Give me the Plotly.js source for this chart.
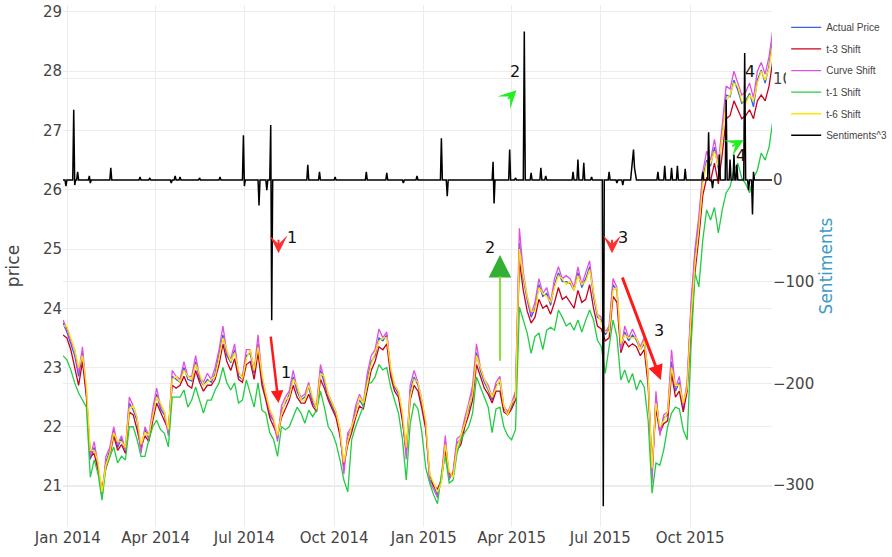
<!DOCTYPE html>
<html>
<head>
<meta charset="utf-8">
<script src="https://cdn.plot.ly/plotly-3.0.1.min.js"></script>
<style>html,body{margin:0;padding:0;background:#fff;}#chart{width:892px;height:557px;}</style>
</head>
<body>
<div id="chart"></div>
<script>
// Series sampled every 4 days starting 2013-12-27
var startDate = '2013-12-27';
var stepDays = 4;

var actualPrice = [
23.75,23.6,23.4,23.2,22.85,23.25,22.55,21.45,21.65,21.3,
20.85,21.4,21.6,21.95,21.65,21.8,21.6,22.4,22.28,22.1,
21.6,21.95,21.8,22.2,22.55,22.3,22.2,21.9,22.85,22.8,
22.75,23.0,22.8,22.77,23.1,22.8,22.7,22.8,22.75,22.9,
23.2,23.55,23.2,23.08,23.3,22.85,22.8,23.2,23.24,22.9,
23.4,22.8,22.5,22.2,22.1,21.8,22.28,22.4,22.55,22.84,
22.6,22.45,22.5,22.67,22.4,22.3,22.96,22.75,22.5,22.35,
22.2,21.9,21.3,21.85,21.95,22.28,22.45,22.35,22.8,23.1,
23.2,23.5,23.45,23.55,22.9,22.67,22.55,22.15,21.55,22.6,
22.84,22.7,22.4,22.0,21.1,21.0,20.85,21.1,21.75,21.15,
21.2,21.72,21.8,22.1,22.3,22.6,23.25,22.95,22.75,22.62,
22.45,22.7,22.75,22.3,22.23,22.35,22.55,25.1,24.5,24.14,
23.85,24.0,24.4,24.2,24.25,24.05,24.4,24.6,24.45,24.45,
24.42,24.3,24.6,24.35,24.5,24.7,24.2,23.85,23.8,23.55,
23.65,24.4,24.3,23.3,23.6,23.45,23.55,23.46,23.3,23.4,
22.8,21.2,22.5,21.9,22.15,22.2,23.1,22.6,22.75,22.3,
22.7,24.0,24.9,25.44,26.2,26.5,26.4,26.72,26.35,26.95,
27.6,27.57,27.85,27.68,27.46,27.5,27.63,27.4,27.85,28.02,
27.8,28.1,28.58
];

var shiftT3 = [
23.55,23.5,23.3,23.0,22.7,23.1,22.5,21.5,21.55,21.25,
20.95,21.3,21.5,21.85,21.6,21.7,21.55,22.25,22.2,21.95,
21.65,21.85,21.75,22.1,22.4,22.25,22.1,21.95,22.7,22.65,
22.7,22.85,22.7,22.65,22.95,22.75,22.6,22.7,22.7,22.8,
23.05,23.4,23.1,22.95,23.15,22.8,22.75,23.05,23.1,22.8,
23.25,22.7,22.45,22.15,22.0,21.85,22.15,22.3,22.45,22.7,
22.5,22.4,22.4,22.55,22.35,22.25,22.8,22.65,22.45,22.3,
22.15,21.85,21.35,21.7,21.9,22.15,22.35,22.3,22.65,22.95,
23.1,23.35,23.3,23.4,22.85,22.6,22.5,22.1,21.6,22.45,
22.7,22.6,22.3,21.95,21.2,21.0,20.95,21.1,21.6,21.2,
21.2,21.6,21.7,22.0,22.2,22.45,23.05,22.85,22.65,22.55,
22.4,22.6,22.6,22.25,22.2,22.3,22.45,24.8,24.3,23.95,
23.75,23.85,24.15,24.0,24.05,23.9,24.1,24.35,24.15,24.2,
24.1,24.0,24.3,24.1,24.15,24.4,24.0,23.7,23.65,23.45,
23.5,24.2,24.1,23.25,23.45,23.35,23.4,23.35,23.2,23.3,
22.7,21.3,22.3,21.9,22.05,22.1,22.9,22.5,22.6,22.25,
22.6,23.7,24.6,25.2,25.9,26.2,26.15,26.45,26.1,26.6,
27.2,27.25,27.5,27.35,27.2,27.25,27.35,27.2,27.5,27.6,
27.5,27.75,28.2
];

var curveShift = [
23.8,23.65,23.45,23.3,22.9,23.35,22.6,21.5,21.75,21.35,
20.8,21.5,21.65,22.0,21.7,21.85,21.6,22.5,22.35,22.15,
21.55,22.0,21.85,22.3,22.65,22.35,22.25,21.85,22.95,22.85,
22.8,23.1,22.85,22.85,23.2,22.85,22.75,22.9,22.8,23.0,
23.3,23.7,23.25,23.15,23.4,22.9,22.85,23.3,23.3,22.95,
23.55,22.85,22.55,22.25,22.1,21.75,22.35,22.5,22.6,22.95,
22.65,22.5,22.55,22.75,22.45,22.35,23.05,22.8,22.55,22.4,
22.25,21.95,21.2,21.9,22.0,22.35,22.55,22.4,22.9,23.2,
23.3,23.65,23.5,23.6,22.95,22.7,22.6,22.2,21.45,22.7,
22.95,22.75,22.45,22.05,21.05,20.95,20.8,21.15,21.85,21.1,
21.25,21.8,21.85,22.15,22.4,22.7,23.4,23.0,22.8,22.7,
22.5,22.75,22.85,22.35,22.25,22.4,22.6,25.35,24.6,24.2,
23.9,24.1,24.5,24.25,24.35,24.1,24.5,24.7,24.5,24.55,
24.5,24.35,24.7,24.4,24.6,24.8,24.25,23.9,23.85,23.6,
23.7,24.5,24.35,23.3,23.7,23.5,23.65,23.5,23.35,23.5,
22.9,21.05,22.6,21.85,22.2,22.25,23.3,22.65,22.85,22.35,
22.75,24.1,25.0,25.55,26.3,26.65,26.5,26.85,26.45,27.1,
27.75,27.7,28.0,27.8,27.6,27.65,27.8,27.55,28.0,28.15,
27.95,28.25,28.72
];

var shiftT1 = [
23.2,23.13,22.96,22.74,22.57,22.45,22.33,21.15,21.44,21.2,
20.76,21.32,21.5,21.66,21.39,21.5,21.44,22.0,22.0,21.78,
21.5,21.5,21.78,22.0,22.11,21.95,21.89,21.66,22.5,22.5,
22.5,22.62,22.33,22.45,22.67,22.45,22.23,22.45,22.45,22.62,
22.74,23.0,22.74,22.62,22.74,22.4,22.45,22.79,22.57,22.33,
22.74,22.28,22.23,21.9,21.78,21.5,22.0,21.95,22.0,22.17,
22.33,22.23,22.06,22.28,22.17,22.28,22.6,22.33,22.0,21.9,
21.72,21.44,21.1,20.9,21.78,22.0,22.17,22.35,22.74,22.74,
22.84,23.05,22.96,23.0,22.67,22.45,22.23,21.8,21.1,22.05,
22.4,22.3,21.9,21.3,21.05,20.85,20.7,21.2,21.5,21.05,
21.1,21.55,21.78,21.9,22.0,22.23,22.84,22.67,22.5,22.33,
21.9,22.3,22.33,22.0,21.85,21.78,21.95,24.02,23.8,23.58,
23.24,23.52,23.58,23.3,23.63,23.68,23.63,23.97,23.85,23.7,
23.75,23.63,23.8,23.6,23.8,23.97,23.8,23.46,23.35,22.9,
23.35,23.8,23.52,22.79,22.96,22.74,22.9,22.62,22.79,22.67,
22.11,20.88,21.39,21.35,21.61,22.0,22.23,22.33,22.3,21.95,
21.78,23.35,24.6,24.36,25.15,25.66,25.49,25.7,25.27,25.66,
25.95,26.05,26.33,26.45,26.2,26.1,25.95,26.2,26.33,26.62,
26.5,26.72,27.18
];

var shiftT6 = [
23.7,23.7,23.5,23.3,23.0,23.2,22.7,21.6,21.6,21.4,
20.9,21.35,21.55,21.9,21.75,21.75,21.65,22.3,22.35,22.15,
21.7,21.9,21.85,22.15,22.5,22.4,22.25,21.95,22.8,22.85,
22.75,22.95,22.85,22.8,23.05,22.9,22.7,22.75,22.8,22.85,
23.15,23.5,23.3,23.1,23.25,22.95,22.8,23.15,23.3,22.95,
23.35,22.9,22.55,22.3,22.15,21.85,22.2,22.45,22.5,22.8,
22.7,22.45,22.45,22.7,22.5,22.3,22.9,22.85,22.55,22.4,
22.25,21.95,21.4,21.75,22.0,22.2,22.5,22.4,22.75,23.05,
23.25,23.45,23.5,23.5,23.0,22.7,22.6,22.25,21.65,22.5,
22.8,22.75,22.45,22.1,21.2,21.05,20.9,21.05,21.7,21.25,
21.15,21.65,21.85,22.05,22.35,22.55,23.2,23.0,22.8,22.65,
22.5,22.65,22.8,22.35,22.2,22.4,22.5,25.0,24.55,24.2,
23.95,23.95,24.35,24.25,24.2,24.1,24.35,24.55,24.5,24.4,
24.45,24.3,24.55,24.4,24.45,24.65,24.3,23.9,23.75,23.6,
23.6,24.3,24.35,23.4,23.55,23.5,23.5,23.5,23.3,23.45,
22.85,21.3,22.4,22.0,22.1,22.25,23.0,22.7,22.7,22.4,
22.65,23.85,24.75,25.35,26.1,26.45,26.45,26.65,26.4,26.9,
27.5,27.6,27.8,27.75,27.5,27.45,27.6,27.5,27.8,28.0,
27.85,28.05,28.5
];

var sentDates = [
'2013-12-27','2013-12-29','2013-12-30','2013-12-31','2014-01-06','2014-01-07','2014-01-08','2014-01-09',
'2014-01-10','2014-01-11','2014-01-12','2014-01-22','2014-01-23','2014-01-24','2014-01-25','2014-02-13',
'2014-02-14','2014-02-15','2014-03-15','2014-03-16','2014-03-17','2014-03-25','2014-03-26','2014-03-27',
'2014-04-16','2014-04-17','2014-04-18','2014-04-20','2014-04-21','2014-04-22','2014-04-25','2014-04-26',
'2014-04-27','2014-05-15','2014-05-16','2014-05-17','2014-06-05','2014-06-06','2014-06-07','2014-06-29',
'2014-06-30','2014-07-01','2014-07-02','2014-07-15','2014-07-16','2014-07-17','2014-07-23','2014-07-24',
'2014-07-25','2014-07-27','2014-07-28','2014-07-29','2014-07-30','2014-09-03','2014-09-04','2014-09-05',
'2014-09-15','2014-09-16','2014-09-17','2014-10-01','2014-10-02','2014-10-03','2014-11-02','2014-11-03',
'2014-11-04','2014-11-23','2014-11-24','2014-11-25','2014-12-10','2014-12-11','2014-12-12','2014-12-24',
'2014-12-25','2014-12-26','2015-01-18','2015-01-19','2015-01-20','2015-01-24','2015-01-25','2015-01-26',
'2015-03-12','2015-03-13','2015-03-14','2015-03-15','2015-03-29','2015-03-30','2015-03-31','2015-04-04',
'2015-04-05','2015-04-06','2015-04-13','2015-04-14','2015-04-15','2015-04-20','2015-04-21','2015-04-22',
'2015-04-30','2015-05-01','2015-05-02','2015-05-05','2015-05-06','2015-05-07','2015-06-02','2015-06-03',
'2015-06-04','2015-06-07','2015-06-08','2015-06-09','2015-06-13','2015-06-14','2015-06-15','2015-06-21',
'2015-06-22','2015-06-23','2015-07-03','2015-07-04','2015-07-05','2015-07-09','2015-07-10','2015-07-11',
'2015-07-17','2015-07-18','2015-07-19','2015-07-23','2015-07-24','2015-07-25','2015-08-01','2015-08-03',
'2015-08-04','2015-08-05','2015-08-07','2015-08-28','2015-08-29','2015-08-30','2015-09-04','2015-09-05',
'2015-09-06','2015-09-11','2015-09-12','2015-09-13','2015-09-17','2015-09-18','2015-09-19','2015-09-25',
'2015-09-26','2015-09-27','2015-10-13','2015-10-14','2015-10-15','2015-10-19','2015-10-20','2015-10-21',
'2015-10-23','2015-10-24','2015-10-25','2015-10-30','2015-10-31','2015-11-01','2015-11-06','2015-11-07',
'2015-11-08','2015-11-10','2015-11-11','2015-11-12','2015-11-14','2015-11-15','2015-11-16','2015-11-17',
'2015-11-18','2015-11-19','2015-11-25','2015-11-26','2015-11-27','2015-11-29','2015-11-30','2015-12-01',
'2015-12-03','2015-12-04','2015-12-05','2015-12-06','2015-12-24'
];
var sentValues = [
0,0,-6,0,0,69,-5,0,
0,8,0,0,4,-3,0,0,
12,0,0,3,0,0,2,0,
0,-3,0,0,4,0,0,3,
0,0,2,0,0,3,0,0,
44,-6,0,0,-25,0,0,-10,
0,0,54,-138,0,0,15,0,
0,8,0,0,3,0,0,8,
0,0,7,0,0,-3,0,0,
4,0,0,41,0,0,-16,0,
0,18,-23,0,0,30,0,0,
2,0,0,146,0,0,7,0,
0,12,0,0,4,0,0,8,
0,0,20,0,0,17,0,0,
3,0,0,-321,0,0,8,0,
0,-3,0,0,-5,0,0,18,
30,12,0,0,8,0,0,14,
0,0,12,0,0,14,0,0,
11,0,0,8,0,0,47,0,
0,-8,0,0,25,0,0,79,
0,0,20,0,0,25,0,0,
15,0,0,125,0,0,-10,0,
0,-34,8,0,0
];

var seriesNames = ['Actual Price','t-3 Shift','Curve Shift','t-1 Shift','t-6 Shift','Sentiments^3'];
var seriesColors = ['#3a5fe0','#c8001e','#e050e0','#22cc44','#ffe600','#000000'];

var xaxisRange = ['2013-12-27','2015-12-24'];
var priceRange = [20.308, 29.118];
var sentRange = [-341.3, 172.1];

var dayMs = 86400000;
var priceSeries = [actualPrice, shiftT3, curveShift, shiftT1, shiftT6];
var traces = priceSeries.map(function(vals, k){
  return {
    type:'scatter', mode:'lines', name:seriesNames[k],
    x0:startDate, dx:stepDays*dayMs, y:vals,
    line:{color:seriesColors[k], width:1.3},
    legendgroup:'g'+k, yaxis:'y'
  };
});
traces.push({
  type:'scatter', mode:'lines', name:seriesNames[5],
  x:sentDates, y:sentValues, yaxis:'y2',
  line:{color:seriesColors[5], width:1.5}, legendgroup:'g5'
});

var txtFont = {family:'DejaVu Sans, Verdana, sans-serif', size:16, color:'#111'};
function label(x, y, t){ return {x:x, y:y, xref:'x', yref:'y', text:t, showarrow:false, font:txtFont}; }
function arrow(x, y, ax, ay, head, w, s, c){
  return {x:x, y:y, xref:'x', yref:'y', ax:ax, ay:ay, text:'', showarrow:true,
          arrowhead:head, arrowwidth:w, arrowsize:s, arrowcolor:c};
}

var annotations = [
  arrow('2014-08-05', 24.93, 0, -15, 3, 2, 1.5, '#ff3030'),
  label('2014-08-19', 25.2, '1'),
  arrow('2014-08-05', 22.4, -8, -68, 2, 2.5, 1, '#ff1a1a'),
  label('2014-08-13', 22.92, '1'),
  arrow('2015-04-06', 27.68, -10, 10, 3, 2, 1.5, '#22ee22'),
  label('2015-04-04', 27.99, '2'),
  arrow('2015-03-20', 24.9, 0, 107, 2, 1.5, 3, '#33b033'),
  arrow('2015-03-20', 24.54, 0, 86, 0, 1.5, 1, '#88ee22'),
  label('2015-03-10', 25.02, '2'),
  arrow('2015-07-13', 24.93, 0, -15, 3, 2, 1.5, '#ff3030'),
  label('2015-07-24', 25.2, '3'),
  arrow('2015-09-01', 22.79, -39, -104, 2, 3, 1, '#ff1a1a'),
  label('2015-08-30', 23.63, '3'),
  arrow('2015-11-25', 26.84, -13, 7, 3, 2, 1.5, '#22ee22'),
  label('2015-11-22', 26.57, '4'),
  label('2015-12-01', 27.99, '4')
];

var layout = {
  width:892, height:557,
  margin:{l:63, r:120, t:5, b:30, autoexpand:false},
  paper_bgcolor:'#fff', plot_bgcolor:'#fff',
  font:{family:'DejaVu Sans, Verdana, sans-serif', color:'#444', size:15},
  showlegend:true,
  legend:{x:1.02, y:0.985, xanchor:'left', yanchor:'top', tracegroupgap:2.6,
          font:{family:'Liberation Sans, Arial, sans-serif', size:10, color:'#444'}},
  xaxis:{type:'date', range:xaxisRange, dtick:'M3', tick0:'2014-01-01', tickformat:'%b %Y', automargin:false,
         gridcolor:'#ececec', gridwidth:1, zeroline:false, showline:false, tickfont:{size:15}},
  yaxis:{title:{text:'price', font:{size:17}}, range:priceRange, dtick:1, gridcolor:'#ececec', gridwidth:1,
         automargin:false, zeroline:false, showline:false, tickfont:{size:15}},
  yaxis2:{title:{text:'Sentiments', font:{size:17, color:'#3d9bc4'}}, overlaying:'y', side:'right', automargin:false,
          range:sentRange, dtick:100, gridcolor:'#ececec', gridwidth:1, zeroline:false, showline:false,
          tickfont:{size:15}},
  annotations:annotations
};

Plotly.newPlot('chart', traces, layout, {displayModeBar:false, responsive:false});
</script>
</body>
</html>
